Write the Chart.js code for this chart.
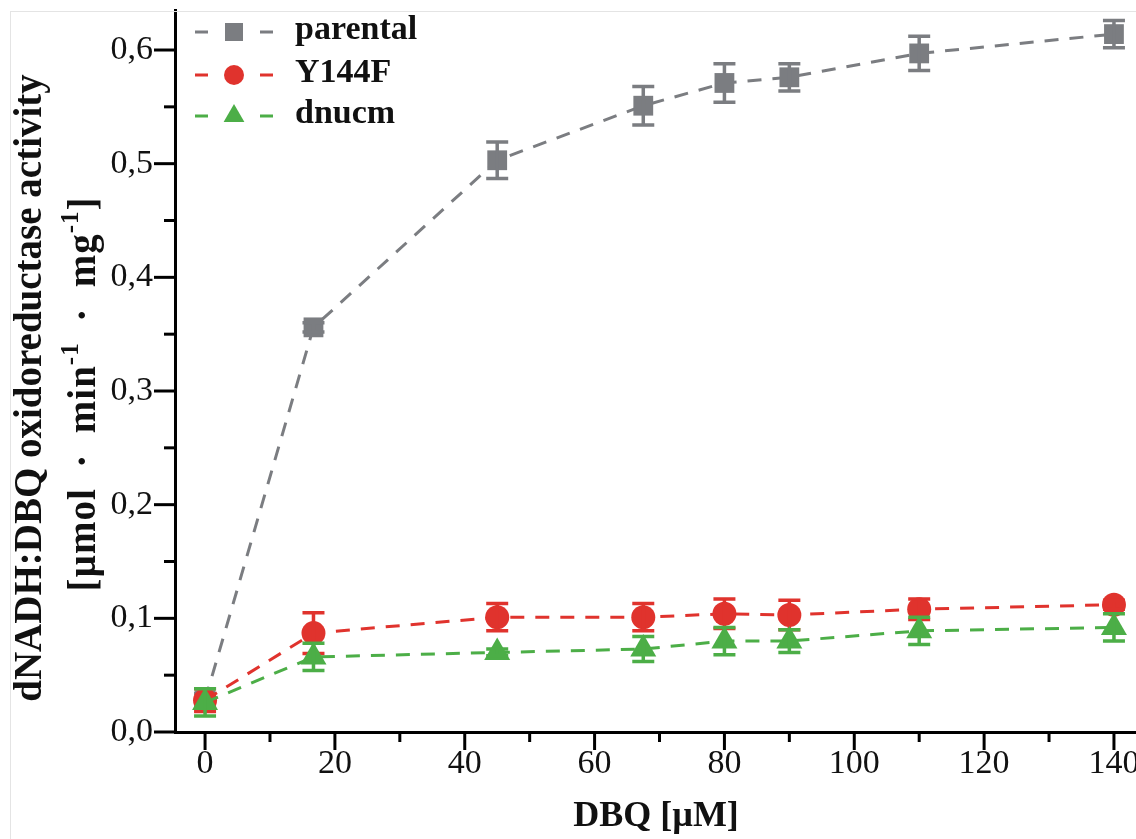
<!DOCTYPE html>
<html>
<head>
<meta charset="utf-8">
<script src="https://cdn.jsdelivr.net/npm/chart.js@4.4.1/dist/chart.umd.min.js"></script>
<style>
  html, body { margin: 0; padding: 0; background: #fff; overflow: hidden; }
  #wrap { position: relative; width: 1136px; height: 839px; overflow: hidden; }
  /* the line controller keeps ~16px overflow room at top/right, so the canvas is shifted to cancel it */
  #dbqChart { position: absolute; left: 0; top: -5px; }
  #frame { position: absolute; left: 10px; top: 11px; right: 0; bottom: 0;
           border-left: 1px solid #e4e4e4; border-top: 1px solid #e4e4e4; pointer-events: none; }
</style>
</head>
<body>
<div id="wrap">
  <canvas id="dbqChart" width="1152" height="865"></canvas>
  <div id="frame"></div>
</div>
<script>
// DBQ concentrations (µM)
const dbqConc = [0, 16.7, 45, 67.5, 80, 90, 110, 140];

// activities [µmol · min-1 · mg-1] and their error bars
const parentalValues = [0.028, 0.356, 0.503, 0.551, 0.571, 0.576, 0.597, 0.614];
const parentalErrors = [0.006, 0.004, 0.016, 0.017, 0.017, 0.012, 0.015, 0.012];
const y144fValues    = [0.028, 0.087, 0.101, 0.101, 0.104, 0.103, 0.108, 0.112];
const y144fErrors    = [0.010, 0.018, 0.012, 0.012, 0.013, 0.013, 0.009, 0.004];
const dnucmValues    = [0.026, 0.066, 0.070, 0.073, 0.080, 0.080, 0.089, 0.092];
const dnucmErrors    = [0.012, 0.012, 0.003, 0.011, 0.012, 0.010, 0.012, 0.012];

const seriesNames = ['parental', 'Y144F', 'dnucm'];

// labelled ticks
const xTickLabels = [0, 20, 40, 60, 80, 100, 120, 140];
const yTickLabels = [0, 0.1, 0.2, 0.3, 0.4, 0.5, 0.6];

const FONT = "'Liberation Serif', 'Times New Roman', serif";

function toPoints(vals) {
  return dbqConc.map((x, i) => ({ x: x, y: vals[i] }));
}
function isLabelled(list, v) {
  return list.some(t => Math.abs(t - v) < 1e-6);
}

// error bars, drawn right after each dataset so the stacking matches
const errorBars = {
  id: 'errorBars',
  afterDatasetDraw(chart, args) {
    const ds = chart.data.datasets[args.index];
    if (!ds.errors) return;
    const ctx = chart.ctx;
    const xs = chart.scales.x, ys = chart.scales.y;
    ctx.save();
    ctx.strokeStyle = ds.borderColor;
    ctx.lineWidth = 3.5;
    ds.data.forEach((p, i) => {
      const e = ds.errors[i];
      const px = xs.getPixelForValue(p.x);
      const top = ys.getPixelForValue(p.y + e);
      const bot = ys.getPixelForValue(p.y - e);
      ctx.beginPath();
      ctx.moveTo(px, top); ctx.lineTo(px, bot);
      ctx.moveTo(px - 11, top); ctx.lineTo(px + 11, top);
      ctx.moveTo(px - 11, bot); ctx.lineTo(px + 11, bot);
      ctx.stroke();
    });
    ctx.restore();
  }
};

// outward major / minor tick marks
const tickMarks = {
  id: 'tickMarks',
  afterDraw(chart) {
    const ctx = chart.ctx;
    const area = chart.chartArea;
    const xs = chart.scales.x, ys = chart.scales.y;
    ctx.save();
    ctx.strokeStyle = '#000';
    ctx.lineWidth = 3;
    ys.ticks.forEach(t => {
      const py = ys.getPixelForValue(t.value);
      const len = isLabelled(yTickLabels, t.value) ? 21 : 11;
      ctx.beginPath(); ctx.moveTo(area.left - len, py); ctx.lineTo(area.left, py); ctx.stroke();
    });
    xs.ticks.forEach(t => {
      const px = xs.getPixelForValue(t.value);
      const len = isLabelled(xTickLabels, t.value) ? 18 : 10;
      ctx.beginPath(); ctx.moveTo(px, area.bottom); ctx.lineTo(px, area.bottom + len); ctx.stroke();
    });
    ctx.restore();
  }
};

// two line y axis title with raised "-1"
const yTitle = {
  id: 'yTitle',
  afterDraw(chart) {
    const ctx = chart.ctx;
    const area = chart.chartArea;
    const mid = (area.top + area.bottom) / 2;
    ctx.save();
    ctx.fillStyle = '#111';
    ctx.textBaseline = 'alphabetic';
    ctx.textAlign = 'center';
    // line 1
    ctx.save();
    ctx.translate(41, mid + 17);
    ctx.rotate(-Math.PI / 2);
    ctx.font = 'bold 39px ' + FONT;
    ctx.fillText('dNADH:DBQ oxidoreductase activity', 0, 0);
    ctx.restore();
    // line 2, built from pieces
    const parts = [
      ['[µmol\u2002·\u2002min', false], ['-1', true],
      ['\u2002·\u2002mg', false], ['-1', true], [']', false]
    ];
    const big = 'bold 39px ' + FONT, small = 'bold 25px ' + FONT;
    ctx.letterSpacing = '1px';
    let total = 0;
    parts.forEach(p => { ctx.font = p[1] ? small : big; total += ctx.measureText(p[0]).width; });
    ctx.save();
    ctx.translate(95, mid + 23);
    ctx.rotate(-Math.PI / 2);
    ctx.textAlign = 'left';
    let cx = -total / 2;
    parts.forEach(p => {
      ctx.font = p[1] ? small : big;
      ctx.fillText(p[0], cx, p[1] ? -17 : 0);
      cx += ctx.measureText(p[0]).width;
    });
    ctx.restore();
    ctx.restore();
  }
};

// legend drawn inside the plot, "- marker -" style
const legendInPlot = {
  id: 'legendInPlot',
  afterDraw(chart) {
    const ctx = chart.ctx;
    const area = chart.chartArea;
    const rows = [22, 65, 106];
    ctx.save();
    chart.data.datasets.forEach((ds, i) => {
      const cy = area.top + rows[i];
      const mx = area.left + 59;
      ctx.strokeStyle = ds.borderColor;
      ctx.fillStyle = ds.borderColor;
      ctx.lineWidth = 3;
      ctx.beginPath();
      ctx.moveTo(mx - 39, cy); ctx.lineTo(mx - 26, cy);
      ctx.moveTo(mx + 26, cy); ctx.lineTo(mx + 39, cy);
      ctx.stroke();
      ctx.beginPath();
      if (ds.pointStyle === 'rect') {
        ctx.rect(mx - 9, cy - 9, 18, 18);
      } else if (ds.pointStyle === 'circle') {
        ctx.arc(mx, cy, 10, 0, Math.PI * 2);
      } else {
        const r = 12;
        ctx.moveTo(mx, cy - r);
        ctx.lineTo(mx + r * 0.866, cy + r / 2);
        ctx.lineTo(mx - r * 0.866, cy + r / 2);
        ctx.closePath();
      }
      ctx.fill();
      ctx.fillStyle = '#111';
      ctx.font = 'bold 34px ' + FONT;
      ctx.textBaseline = 'middle';
      ctx.textAlign = 'left';
      ctx.fillText(seriesNames[i], area.left + 120, cy - 2);
    });
    ctx.restore();
  }
};

function lineSet(label, vals, errs, color, style, radius, order) {
  return {
    label: label,
    data: toPoints(vals),
    errors: errs,
    borderColor: color,
    backgroundColor: color,
    borderWidth: 3,
    borderDash: [14, 11],
    pointStyle: style,
    pointRadius: radius,
    pointBorderWidth: 0,
    pointBackgroundColor: color,
    tension: 0,
    order: order
  };
}

new Chart(document.getElementById('dbqChart'), {
  type: 'line',
  data: {
    datasets: [
      lineSet(seriesNames[0], parentalValues, parentalErrors, '#7b7d81', 'rect', 14, 2),
      lineSet(seriesNames[1], y144fValues, y144fErrors, '#e0332d', 'circle', 12, 1),
      lineSet(seriesNames[2], dnucmValues, dnucmErrors, '#4cae47', 'triangle', 15, 0)
    ]
  },
  options: {
    responsive: false,
    animation: false,
    devicePixelRatio: 1,
    layout: { padding: { top: 10, left: 0, right: 0, bottom: 0 } },
    plugins: {
      legend: { display: false },
      tooltip: { enabled: false }
    },
    scales: {
      x: {
        type: 'linear',
        min: -4.63,
        max: 143.55,
        afterFit: s => { s.height = 128; s.paddingLeft = 0; s.paddingRight = 0; },
        grid: { display: false, drawTicks: false, tickLength: 0 },
        border: { display: true, color: '#000', width: 3 },
        ticks: {
          stepSize: 10,
          includeBounds: false,
          autoSkip: false,
          maxRotation: 0,
          padding: 12,
          color: '#111',
          font: { family: FONT, size: 34 },
          callback: v => isLabelled(xTickLabels, v) ? String(Math.round(v)) : ''
        },
        title: {
          display: true,
          text: 'DBQ [µM]',
          color: '#111',
          font: { family: FONT, size: 36, weight: 'bold' },
          padding: { top: 0, bottom: 22 }
        }
      },
      y: {
        type: 'linear',
        min: 0,
        max: 0.6352,
        afterFit: s => { s.width = 175; s.paddingTop = 0; s.paddingBottom = 0; },
        grid: { display: false, drawTicks: false, tickLength: 0 },
        border: { display: true, color: '#000', width: 3 },
        ticks: {
          stepSize: 0.05,
          includeBounds: false,
          autoSkip: false,
          padding: 22,
          color: '#111',
          font: { family: FONT, size: 34 },
          callback: v => isLabelled(yTickLabels, v) ? v.toFixed(1).replace('.', ',') : ''
        }
      }
    }
  },
  plugins: [errorBars, tickMarks, yTitle, legendInPlot]
});
</script>
</body>
</html>
